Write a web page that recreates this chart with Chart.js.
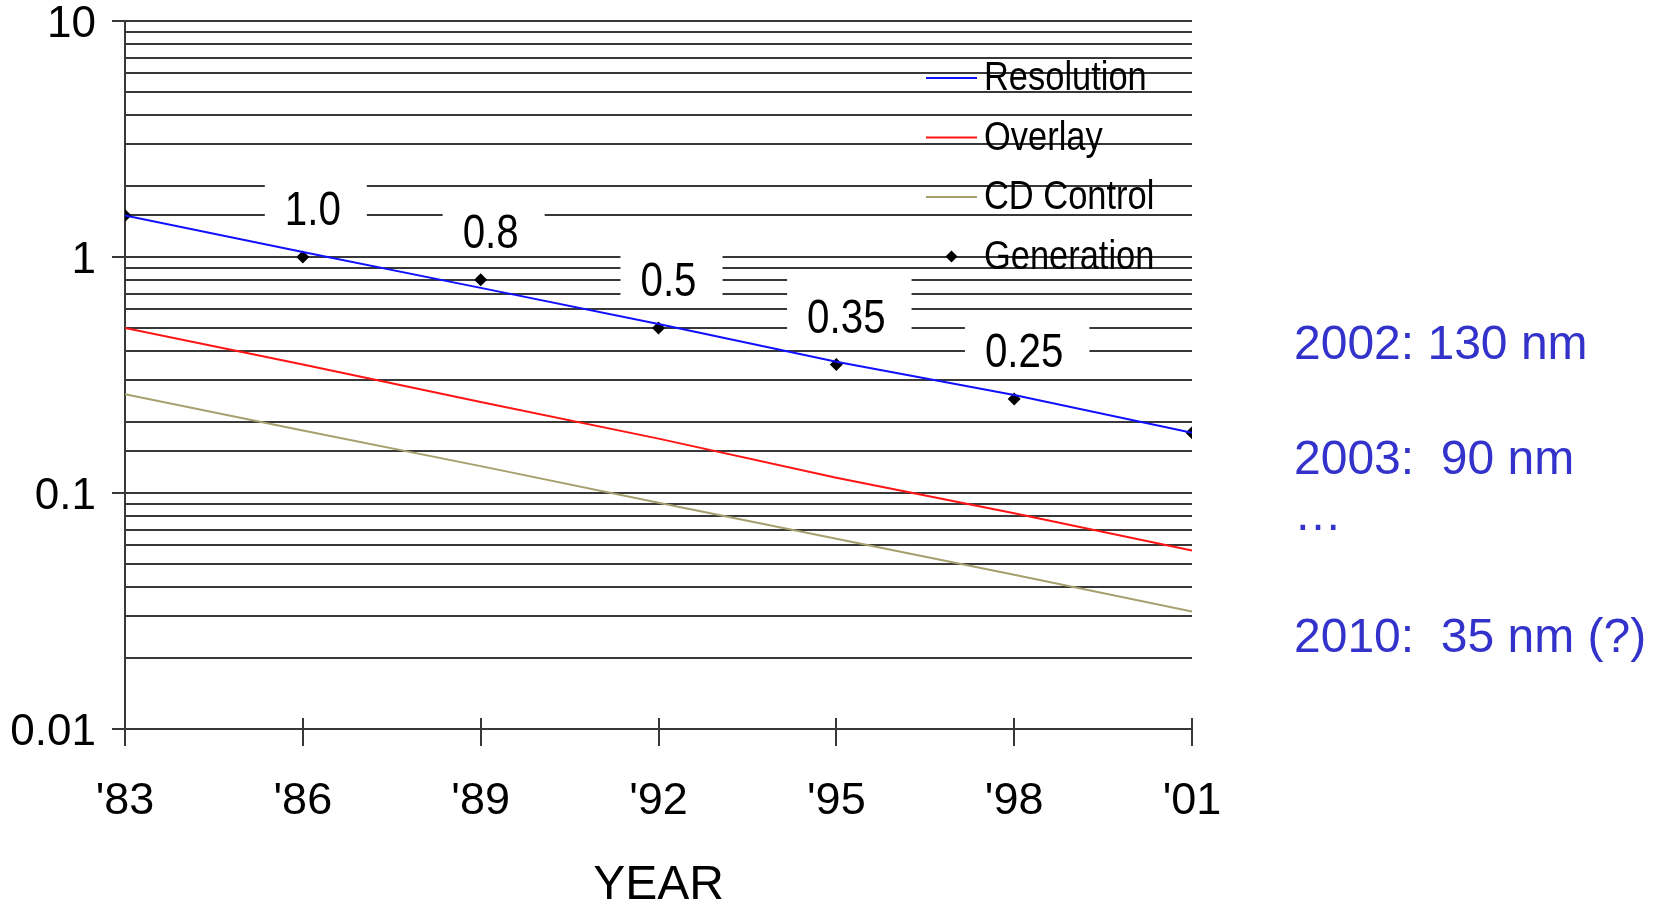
<!DOCTYPE html>
<html>
<head>
<meta charset="utf-8">
<script src="https://cdn.jsdelivr.net/npm/chart.js@4/dist/chart.umd.min.js"></script>
<style>
  html, body { margin: 0; padding: 0; background: #fff; }
  #wrap { position: relative; width: 1654px; height: 904px; }
  #c { position: absolute; left: 0; top: 0; }
  .note { position: absolute; left: 1294px; font-family: 'Liberation Sans', Arial, sans-serif;
          font-size: 48px; color: #3333CC; white-space: pre; line-height: 1; }
</style>
</head>
<body>
<div id="wrap">
  <canvas id="c" width="1654" height="904"></canvas>
  <div class="note" style="top:319px">2002: 130 nm</div>
  <div class="note" style="top:434px">2003:  90 nm</div>
  <div class="note" style="top:490px">…</div>
  <div class="note" style="top:612px">2010:  35 nm (?)</div>
</div>
<script>
// ---- data ----
const years = [1983, 1986, 1989, 1992, 1995, 1998, 2001];
const resolution = [1.5, 1.05, 0.74, 0.52, 0.36, 0.26, 0.18];
const overlay = [0.5, 0.35, 0.243, 0.17, 0.116, 0.082, 0.057];
const cdControl = [0.262, 0.184, 0.13, 0.091, 0.064, 0.045, 0.0315];
const generation = [1.5, 1.0, 0.8, 0.5, 0.35, 0.25, 0.18];
const generationLabels = [null, '1.0', '0.8', '0.5', '0.35', '0.25', null];
const yTickLabels = ['0.01', '0.1', '1', '10'];
const seriesNames = ['Resolution', 'Overlay', 'CD Control', 'Generation'];
const xTitle = 'YEAR';

const SANS = "'Liberation Sans', Arial, sans-serif";
const GRID = '#383838';
const NARROW_X = 0.84;

function pts(vals) { return years.map((y, i) => ({x: y, y: vals[i]})); }
function isDecade(v) { const l = Math.log10(v); return Math.abs(l - Math.round(l)) < 1e-6; }

// draw text horizontally condensed (Arial Narrow look)
function narrowText(ctx, t, x, y, align) {
  ctx.save();
  ctx.translate(x, y);
  ctx.scale(NARROW_X, 1);
  ctx.textAlign = align;
  ctx.fillText(t, 0, 0);
  ctx.restore();
}

// labels above generation points, with white boxes
const genLabelPlugin = {
  id: 'genLabels',
  afterDatasetsDraw(chart) {
    const ctx = chart.ctx;
    const meta = chart.getDatasetMeta(3);
    ctx.save();
    ctx.font = '48px ' + SANS;
    ctx.textBaseline = 'middle';
    meta.data.forEach((el, i) => {
      const t = generationLabels[i];
      if (!t) return;
      const cx = el.x + 10, cy = el.y - 45;
      const w = ctx.measureText(t).width * NARROW_X;
      ctx.fillStyle = '#fff';
      ctx.fillRect(cx - w / 2 - 20, cy - 42, w + 46, 62);
      ctx.fillStyle = '#000';
      narrowText(ctx, t, cx, cy, 'center');
    });
    ctx.restore();
  }
};

// legend drawn inside the chart area (top-right)
const innerLegendPlugin = {
  id: 'innerLegend',
  afterDatasetsDraw(chart) {
    const ctx = chart.ctx;
    const a = chart.chartArea;
    const x0 = a.right - 266, x1 = a.right - 215, tx = a.right - 208;
    ctx.save();
    ctx.font = '41px ' + SANS;
    ctx.textBaseline = 'middle';
    chart.data.datasets.forEach((ds, i) => {
      const y = a.top + 57 + i * 59.5;
      if (ds.showLine === false) {
        ctx.fillStyle = '#000';
        ctx.beginPath();
        const cx = (x0 + x1) / 2, r = 6;
        ctx.moveTo(cx, y - r); ctx.lineTo(cx + r, y); ctx.lineTo(cx, y + r); ctx.lineTo(cx - r, y);
        ctx.closePath(); ctx.fill();
      } else {
        ctx.strokeStyle = ds.borderColor;
        ctx.lineWidth = 2;
        ctx.beginPath(); ctx.moveTo(x0, y); ctx.lineTo(x1, y); ctx.stroke();
      }
      ctx.fillStyle = '#000';
      narrowText(ctx, ds.label, tx, y + 1, 'left');
    });
    ctx.restore();
  }
};

// x-axis tick marks crossing the axis line
const xTickPlugin = {
  id: 'xTickMarks',
  afterDraw(chart) {
    const ctx = chart.ctx;
    const xs = chart.scales.x;
    const yb = chart.chartArea.bottom;
    ctx.save();
    ctx.strokeStyle = GRID;
    ctx.lineWidth = 2;
    xs.ticks.forEach((t, i) => {
      const px = Math.round(xs.getPixelForTick(i));
      ctx.beginPath(); ctx.moveTo(px, yb - 11); ctx.lineTo(px, yb + 17); ctx.stroke();
    });
    ctx.restore();
  }
};

new Chart(document.getElementById('c'), {
  type: 'line',
  data: {
    datasets: [
      { label: seriesNames[0], data: pts(resolution), borderColor: '#1010ff', borderWidth: 2, pointRadius: 0, tension: 0 },
      { label: seriesNames[1], data: pts(overlay), borderColor: '#ff1414', borderWidth: 2, pointRadius: 0, tension: 0 },
      { label: seriesNames[2], data: pts(cdControl), borderColor: '#a69f6e', borderWidth: 2, pointRadius: 0, tension: 0 },
      { label: seriesNames[3], data: pts(generation), showLine: false, pointStyle: 'rectRot', pointRadius: 6.5,
        backgroundColor: '#000', borderColor: '#000', borderWidth: 0 }
    ]
  },
  options: {
    responsive: false,
    animation: false,
    layout: { padding: { left: 0, top: 21, right: 462, bottom: 0 } },
    plugins: { legend: { display: false }, tooltip: { enabled: false } },
    scales: {
      x: {
        type: 'linear', min: 1983, max: 2001,
        grid: { display: true, drawOnChartArea: false, drawTicks: false },
        border: { display: true, color: GRID, width: 2 },
        ticks: {
          stepSize: 3, padding: 50, color: '#000',
          font: { family: SANS, size: 45, lineHeight: 1 },
          callback: v => "'" + String(v).slice(2)
        },
        title: { display: true, text: xTitle, color: '#000', font: { family: SANS, size: 48, lineHeight: 1 }, padding: { top: 0, bottom: -6 } },
        afterFit: s => { s.height = 175; s.paddingLeft = 0; s.paddingRight = 0; }
      },
      y: {
        type: 'logarithmic', min: 0.01, max: 10,
        grid: {
          color: GRID, lineWidth: 2, drawTicks: true, tickLength: 13,
          tickColor: c => (c.tick && isDecade(c.tick.value)) ? GRID : 'rgba(0,0,0,0)'
        },
        border: { display: true, color: GRID, width: 2 },
        ticks: {
          autoSkip: false, padding: 16, color: '#000', labelOffset: 4,
          font: { family: SANS, size: 44, lineHeight: 1 },
          callback: v => {
            if (!isDecade(v)) return '';
            const idx = Math.round(Math.log10(v)) + 2;
            return yTickLabels[idx];
          }
        },
        afterFit: s => { s.width = 125; s.paddingTop = 0; s.paddingBottom = 0; }
      }
    }
  },
  plugins: [genLabelPlugin, innerLegendPlugin, xTickPlugin]
});
</script>
</body>
</html>
